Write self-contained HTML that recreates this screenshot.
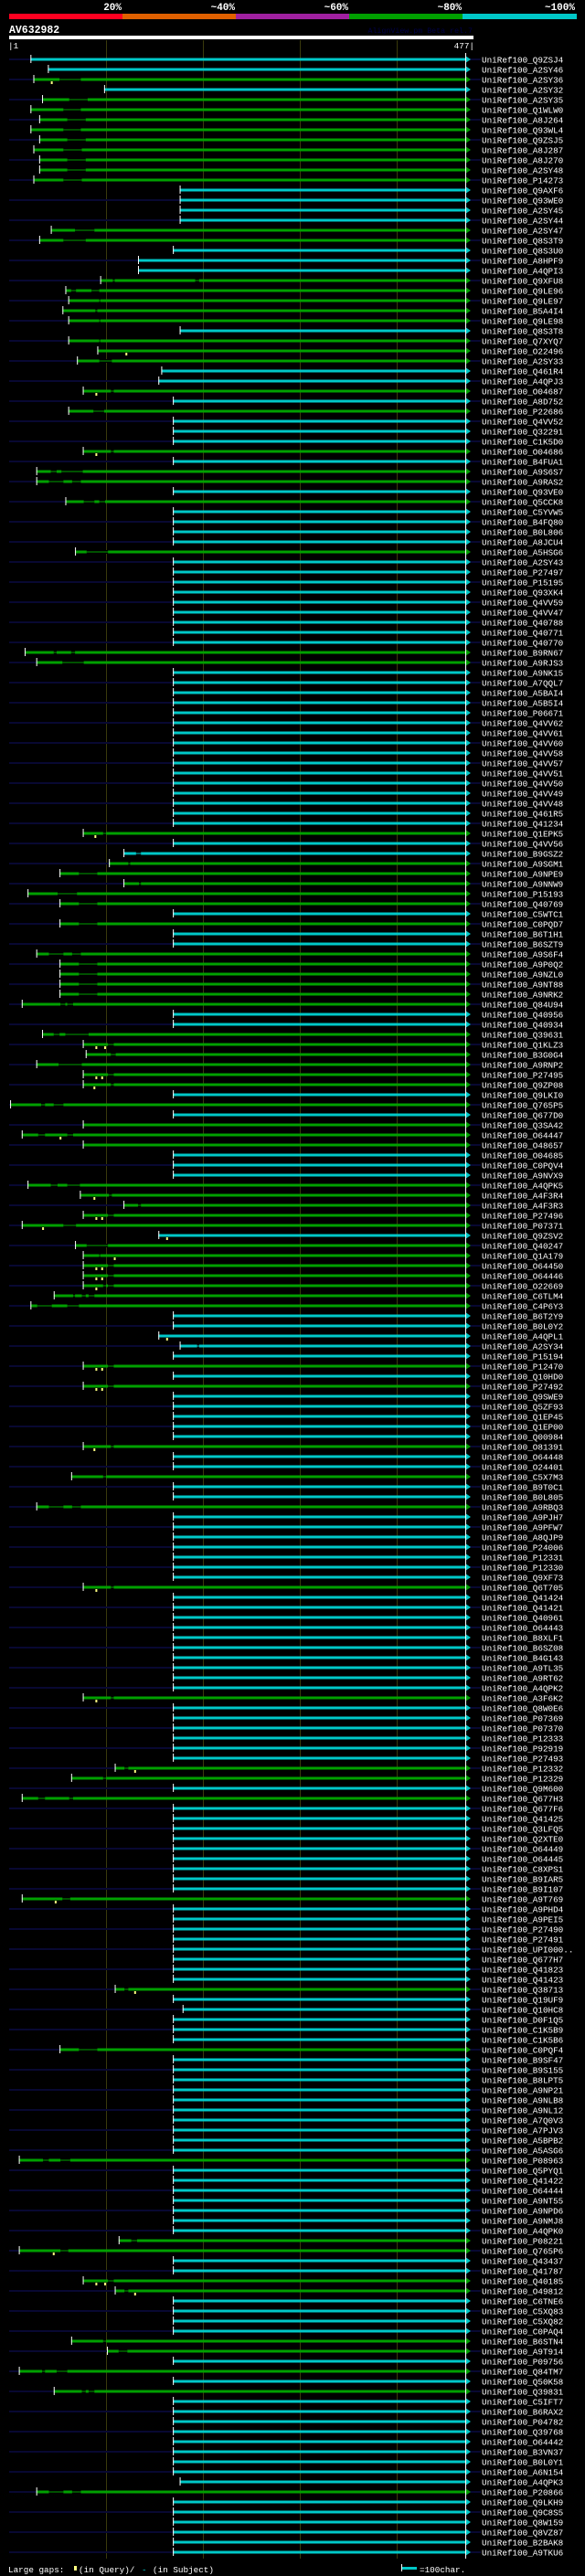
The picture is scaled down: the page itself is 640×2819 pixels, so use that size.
<!DOCTYPE html>
<html><head><meta charset="utf-8"><style>
html,body{margin:0;padding:0;background:#000;}
svg{display:block;}
text{font-family:"Liberation Mono",monospace;}
</style></head><body>
<svg id="chart" width="640" height="2819" viewBox="0 0 640 2819" xmlns="http://www.w3.org/2000/svg">
<rect x="0" y="0" width="640" height="2819" fill="#000"/>
<g>
<rect x="10" y="15" width="124" height="6" fill="#ff0020"/>
<rect x="134" y="15" width="124" height="6" fill="#e06000"/>
<rect x="258" y="15" width="124" height="6" fill="#a020a0"/>
<rect x="382" y="15" width="124" height="6" fill="#00a000"/>
<rect x="506" y="15" width="125" height="6" fill="#00c8c8"/>
<text x="133" y="11" text-anchor="end" font-size="11" font-weight="bold" fill="#fff">20%</text>
<text x="257" y="11" text-anchor="end" font-size="11" font-weight="bold" fill="#fff">~40%</text>
<text x="381" y="11" text-anchor="end" font-size="11" font-weight="bold" fill="#fff">~60%</text>
<text x="505" y="11" text-anchor="end" font-size="11" font-weight="bold" fill="#fff">~80%</text>
<text x="629" y="11" text-anchor="end" font-size="11" font-weight="bold" fill="#fff">~100%</text>
</g>
<text x="10" y="36" font-size="11.5" font-weight="bold" fill="#fff">AV632982</text>
<text x="517" y="36" text-anchor="end" font-size="8.3" fill="#000048">AlignView.pm Beta rel.7</text>
<rect x="10" y="39" width="508" height="4" fill="#fff"/>
<text x="9" y="53" font-size="9.3" fill="#fff">|1</text>
<text x="519" y="53" text-anchor="end" font-size="9.3" fill="#fff">477|</text>
<g id="grid"></g>
<g id="rows"></g>
<line x1="509.5" y1="58" x2="509.5" y2="2800" stroke="#fff" stroke-width="1"/>
<g>
<text x="9" y="2815" font-size="9.3" fill="#fff">Large gaps:</text>
<rect x="81" y="2808" width="3" height="5" fill="#ffff80"/>
<text x="86" y="2815" font-size="9.3" fill="#fff">(in Query)/</text>
<text x="155" y="2815" font-size="9.3" fill="#00c8c8">-</text>
<text x="167" y="2815" font-size="9.3" fill="#fff">(in Subject)</text>
<rect x="439" y="2806" width="1" height="8" fill="#fff"/>
<rect x="440" y="2809" width="16" height="3" fill="#00c8c8"/>
<text x="459" y="2815" font-size="9.3" fill="#fff">=100char.</text>
</g>
</svg>
<script>
const names = "Q9ZSJ4 A2SY46 A2SY36 A2SY32 A2SY35 Q1WLW0 A8J264 Q93WL4 Q9ZSJ5 A8J287 A8J270 A2SY48 P14273 Q9AXF6 Q93WE0 A2SY45 A2SY44 A2SY47 Q8S3T9 Q8S3U0 A8HPF9 A4QPI3 Q9XFU8 Q9LE96 Q9LE97 B5A4I4 Q9LE98 Q8S3T8 Q7XYQ7 O22496 A2SY33 Q461R4 A4QPJ3 O04687 A8D752 P22686 Q4VV52 Q32291 C1K5D0 O04686 B4FUA1 A9S6S7 A9RAS2 Q93VE0 Q5CCK8 C5YVW5 B4FQ80 B0L806 A8JCU4 A5HSG6 A2SY43 P27497 P15195 Q93XK4 Q4VV59 Q4VV47 Q40788 Q40771 Q40770 B9RN67 A9RJS3 A9NK15 A7QQL7 A5BAI4 A5B5I4 P06671 Q4VV62 Q4VV61 Q4VV60 Q4VV58 Q4VV57 Q4VV51 Q4VV50 Q4VV49 Q4VV48 Q461R5 Q41234 Q1EPK5 Q4VV56 B9GSZ2 A9SGM1 A9NPE9 A9NNW9 P15193 Q40769 C5WTC1 C0PQD7 B6T1H1 B6SZT9 A9S6F4 A9P0Q2 A9NZL0 A9NT88 A9NRK2 Q84U94 Q40956 Q40934 Q39631 Q1KLZ3 B3G0G4 A9RNP2 P27495 Q9ZP08 Q9LKI0 Q765P5 Q677D0 Q3SA42 O64447 O48657 O04685 C0PQV4 A9NVX9 A4QPK5 A4F3R4 A4F3R3 P27496 P07371 Q9ZSV2 Q40247 Q1A179 O64450 O64446 O22669 C6TLM4 C4P6Y3 B6T2Y9 B0L0Y2 A4QPL1 A2SY34 P15194 P12470 Q10HD0 P27492 Q9SWE9 Q5ZF93 Q1EP45 Q1EP00 Q00984 O81391 O64448 O24401 C5X7M3 B9T0C1 B0L805 A9RBQ3 A9PJH7 A9PFW7 A8QJP9 P24006 P12331 P12330 Q9XF73 Q6T705 Q41424 Q41421 Q40961 O64443 B8XLF1 B6SZ08 B4G143 A9TL35 A9RT62 A4QPK2 A3F6K2 Q8W0E6 P07369 P07370 P12333 P92919 P27493 P12332 P12329 Q9M600 Q677H3 Q677F6 Q41425 Q3LFQ5 Q2XTE0 O64449 O64445 C8XPS1 B9IAR5 B9I107 A9T769 A9PHD4 A9PEI5 P27490 P27491 UPI000.. Q677H7 Q41823 Q41423 Q38713 Q19UF9 Q10HC8 D0F1Q5 C1K5B9 C1K5B6 C0PQF4 B9SF47 B9S155 B8LPT5 A9NP21 A9NLB8 A9NL12 A7Q0V3 A7PJV3 A5BPB2 A5ASG6 P08963 Q5PYQ1 Q41422 O64444 A9NT55 A9NPD6 A9NMJ8 A4QPK0 P08221 Q765P6 Q43437 Q41787 Q40185 O49812 C6TNE6 C5XQ83 C5XQ82 C0PAQ4 B6STN4 A9T914 P09756 Q84TM7 Q50K58 Q39831 C5IFT7 B6RAX2 P04782 Q39768 O64442 B3VN37 B0L0Y1 A6N154 A4QPK3 P20866 Q9LKH9 Q9C8S5 Q8W159 Q8VZ87 B2BAK8 A9TKU6".split(" ");
const starts = [23,41,26,99,35,23,32,23,32,26,32,32,26,177,177,177,177,44,32,170,134,134,95,59,62,56,62,
177,62,92,71,158,155,77,170,62,170,170,170,77,170,29,29,170,59,170,170,170,170,69,170,170,170,
170,170,170,170,170,170,17,29,170,170,170,170,170,170,170,170,170,170,170,170,170,170,170,170,77,170,119,
104,53,119,20,53,170,53,170,170,29,53,53,53,53,14,170,170,35,77,80,29,77,77,170,2,170,77,
14,77,170,170,170,20,74,119,77,14,155,69,77,77,77,77,47,23,170,170,155,177,170,77,170,77,170,
170,170,170,170,77,170,170,65,170,170,29,170,170,170,170,170,170,170,77,170,170,170,170,170,170,170,170,
170,170,77,170,170,170,170,170,170,110,65,170,14,170,170,170,170,170,170,170,170,170,14,170,170,170,170,
170,170,170,170,110,170,180,170,170,170,53,170,170,170,170,170,170,170,170,170,170,11,170,170,170,170,170,
170,170,114,11,170,170,77,110,170,170,170,170,65,102,170,11,170,47,170,170,170,170,170,170,170,170,177,
29,170,170,170,170,170,170];
const kinds = ("ccgcggggggggg"+"cccc"+"gg"+"ccc"+"ggggg"+
"cgggccgcgcccgcggcgccccgccc"+
"cccccc"+"gg"+"cccccccccccccccc"+"gcc"+
"gggggcgccggggggccggggggcgcg"+
"ggcccgggggcgggggggcccccgcgc"+
"ccccgccgccg"+"ccccccc"+"g"+"cccccccc"+
"ccg"+"cccccc"+"gg"+"c"+"g"+"ccccccccc"+"g"+"cccc"+
"ccccg"+"ccccc"+"g"+"cccccccccc"+"g"+"ccccc"+
"ccggccggccccggcgcg"+"cccccccc"+"c"+
"gcccccc").split("");
const gapRows = [[3,53,75],[5,63,82],[6,57,75],[7,61,80],[8,57,75],[9,61,80],[10,57,76],[11,61,80],[12,61,80],[13,57,76],[18,69,89],[19,57,80],[23,108,110],[23,193,197],[24,65,70],[24,86,94],[25,94,95],[26,90,92],[27,94,95],[29,94,95],[31,94,107],[34,106,109],[36,88,99],[40,106,109],[42,44,50],[42,55,77],[43,42,57],[43,66,75],[45,78,89],[45,94,100],[50,81,103],[60,47,50],[60,65,69],[61,56,78],[78,98,101],[80,132,137],[81,124,126],[82,73,92],[83,135,137],[84,51,71],[85,73,92],[87,73,92],[90,42,57],[90,66,75],[91,73,92],[92,73,92],[93,73,92],[94,73,92],[95,54,59],[95,61,67],[98,47,53],[98,59,83],[99,103,109],[100,106,111],[101,52,76],[102,103,109],[103,106,109],[105,34,38],[105,47,57],[108,31,38],[108,61,67],[113,44,51],[113,61,74],[114,104,107],[115,134,137],[116,103,109],[117,57,70],[119,81,103],[120,94,95],[121,103,109],[122,103,109],[123,98,101],[123,103,109],[124,67,69],[124,76,80],[124,83,89],[125,30,45],[125,61,73],[129,195,197],[131,103,109],[133,103,109],[139,106,109],[142,98,101],[145,42,57],[145,66,75],[153,106,109],[164,106,109],[171,120,124],[172,98,101],[174,31,38],[174,63,67],[184,56,64],[193,120,124],[199,73,92],[210,36,42],[210,54,64],[218,127,133],[219,54,62],[222,103,109],[223,120,124],[228,98,101],[229,114,123],[231,35,38],[231,50,61],[233,76,80],[233,83,89],[243,42,57],[243,66,75]];
const markerRows = [[3,45],[30,122],[34,91],[40,91],[78,90],[99,91],[99,100],[102,91],[102,97],[103,89],[108,54],[114,89],[116,91],[116,97],[117,36],[118,164],[120,110],[121,91],[121,97],[122,91],[122,97],[123,91],[128,164],[131,91],[131,97],[133,91],[133,97],[139,89],[153,91],[164,91],[171,131],[184,49],[193,131],[219,47],[222,91],[222,100],[223,131]];
const gridTicks = [101,201,301,401];
const queryLength = 477;

const NS = "http://www.w3.org/2000/svg";
const X0 = 10, PX = 1.06, Y0 = 65, ROW = 11, BAR_END = 509;
function xScale(c){ return X0 + (c - 1) * PX; }
function yScale(i){ return Y0 + i * ROW; }
const COL = {c:"#00c8c8", g:"#00a000"};
function mk(tag, attrs, parent){
  const e = document.createElementNS(NS, tag);
  for (const k in attrs) e.setAttribute(k, attrs[k]);
  parent.appendChild(e);
  return e;
}
const grid = document.getElementById("grid");
gridTicks.forEach(t => {
  const l = mk("line", {x1:xScale(t)+0.5, x2:xScale(t)+0.5, y1:44, y2:2800, stroke:"#3a3a0c", "stroke-width":1}, grid);
  
  
});
const rowsG = document.getElementById("rows");
names.forEach((n, i) => {
  const y = yScale(i);
  const g = mk("g", {}, rowsG);
  
  
  const sx = xScale(starts[i]);
  const color = COL[kinds[i]] || COL.c;
  if (i % 2 === 0) {
    const nb = mk("rect", {x:X0, y:y-1, width:Math.max(0, sx-X0), height:2, fill:"#080832"}, g);
    
    
    const nr = mk("rect", {x:514, y:y-1, width:12, height:2, fill:"#080832"}, g);
    
    
  }
  const bar = mk("rect", {x:sx, y:y-1.5, width:BAR_END-sx, height:3, fill:color}, g);
  
  
  gapRows.filter(r => r[0] === i + 1).forEach(r => {
    const a = xScale(r[1]), b = xScale(r[2]);
    mk("rect", {x:a, y:y-2, width:b-a, height:4, fill:"#000"}, g);
    const t = mk("rect", {x:a, y:y-0.5, width:b-a, height:1, fill:color}, g);
    
    
  });
  markerRows.filter(r => r[0] === i + 1).forEach(r => {
    const mx = xScale(r[1]);
    const m = mk("rect", {x:mx-1, y:y+2, width:2, height:3, fill:"#ffff80"}, g);
    
    
  });
  const tick = mk("rect", {x:sx, y:y-5, width:1, height:9, fill:"#fff"}, g);
  
  
  const ar = mk("polygon", {points:`${BAR_END},${y-4} ${BAR_END+6},${y} ${BAR_END},${y+4}`, fill:color}, g);
  
  
  const tx = mk("text", {x:527, y:y+3.5, "font-size":"9.3", fill:"#fff"}, g);
  tx.textContent = "UniRef100_" + n;
  
  
});
</script>
</body></html>
